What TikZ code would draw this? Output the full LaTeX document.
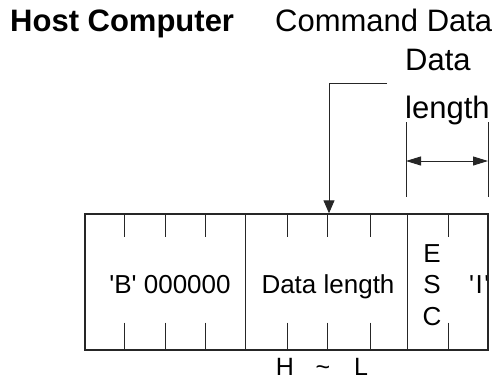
\documentclass[tikz,border=0pt]{standalone}
\usepackage{fontspec}
\setmainfont{Liberation Sans}
\usetikzlibrary{arrows.meta}
\begin{document}
\begin{tikzpicture}[x=1pt,y=-1pt,
  big/.style={font=\fontsize{31}{36}\selectfont, inner sep=0pt},
  mid/.style={font=\fontsize{26}{30}\selectfont, inner sep=0pt},
  small/.style={font=\fontsize{25}{28}\selectfont, inner sep=0pt},
  thin/.style={line width=1pt, black!85},
  frame/.style={draw, line width=2pt, black!85, inner sep=0pt},
  arr/.style={-{Triangle[length=13pt,width=11pt]}, line width=1pt, black!85}]
\useasboundingbox (0,0) rectangle (501,381);
% titles
\node[big, anchor=base west, font=\fontsize{31}{36}\selectfont\bfseries] (host) at (10,31) {Host Computer};
\node[big, anchor=base west] (cmd) at (275,31) {Command Data};
\node[big, anchor=base west] (data) at (405,70) {Data};
\node[big, anchor=base west] (len) at (405,118) {length};
% frame
\node[frame, minimum width=403pt, minimum height=136pt, anchor=north west] (box) at (84.3,213.3) {};
% dividers
\draw[thin] (245.3,213.3) -- (245.3,349.3);
\draw[thin] (407.7,213.3) -- (407.7,349.3);
% ticks
\foreach \x in {124.3,165.7,205,287.7,327.7,370,448.3}{
  \draw[thin] (\x,213.3) -- (\x,237);
  \draw[thin] (\x,322.5) -- (\x,349.3);
}
% texts in frame
\node[mid, anchor=base] (b) at (170,293) {\textquotesingle B\textquotesingle{} 000000};
\node[mid, anchor=base] (dl) at (328,293) {Data length};
\node[mid, anchor=base] (e) at (432,262) {E};
\node[mid, anchor=base] (s) at (432,293) {S};
\node[mid, anchor=base] (c) at (432,325) {C};
\begin{scope}
\clip (box.north west) rectangle (486.7,349.3);
\node[mid, anchor=base west] (i) at (469,293) {\textquotesingle\kern1.5pt I\kern1.5pt\textquotesingle};
\end{scope}
\node[small, anchor=base] (h) at (285,375) {H};
\node[small, anchor=base] (t) at (323,375) {\char`\~};
\node[small, anchor=base] (l) at (361,375) {L};
% command arrow
\coordinate (st) at (387,83);
\coordinate (tip) at (329,213.3);
\draw[arr] (st) -- (329,83) -- (tip);
% dimension
\coordinate (d1) at (406,122);
\coordinate (d2) at (488,122);
\draw[thin] (d1) -- (406,197);
\draw[thin] (d2) -- (488,197);
\draw[{Triangle[length=15pt,width=9pt]}-{Triangle[length=15pt,width=9pt]}, thin] (406,161) -- (488,161);
\end{tikzpicture}
\end{document}
